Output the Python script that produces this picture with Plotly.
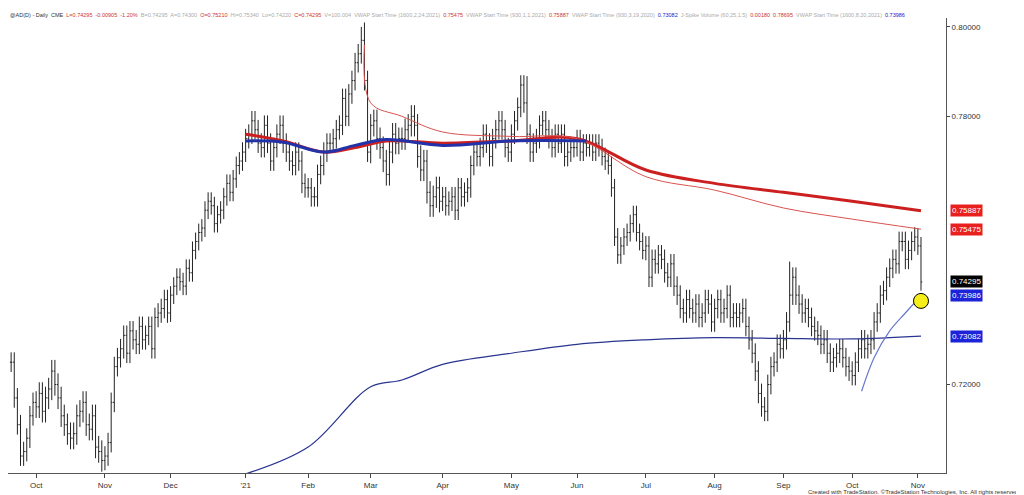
import pandas as pd
import plotly.graph_objects as go

# daily closes (x 1e-4), one list per month
closes = {
    "2020-09": [7250, 7170, 7110, 7040, 7050, 7080, 7130, 7160],
    "2020-10": [7150, 7180, 7140, 7170, 7190, 7230, 7200, 7170, 7130, 7110, 7090, 7080, 7090, 7130, 7140, 7160, 7110, 7100, 7130, 7060, 7050, 7030],
    "2020-11": [7040, 7070, 7160, 7240, 7260, 7280, 7310, 7270, 7320, 7300, 7290, 7330, 7300, 7310, 7330, 7280, 7350, 7360, 7370, 7390, 7360],
    "2020-12": [7400, 7420, 7440, 7430, 7420, 7460, 7450, 7500, 7520, 7540, 7550, 7590, 7610, 7600, 7560, 7580, 7590, 7620, 7650, 7630, 7660, 7690, 7700],
    "2021-01": [7720, 7750, 7760, 7790, 7770, 7740, 7730, 7780, 7740, 7700, 7730, 7760, 7780, 7740, 7720, 7700, 7690, 7720, 7700, 7650, 7640],
    "2021-02": [7640, 7620, 7620, 7670, 7690, 7720, 7740, 7740, 7750, 7770, 7780, 7840, 7800, 7850, 7880, 7920, 7940, 7970, 7880, 7720],
    "2021-03": [7780, 7790, 7750, 7730, 7700, 7670, 7720, 7760, 7740, 7750, 7750, 7770, 7780, 7800, 7780, 7710, 7680, 7700, 7630, 7600, 7620, 7640, 7610],
    "2021-04": [7620, 7600, 7610, 7620, 7590, 7640, 7620, 7630, 7640, 7690, 7720, 7710, 7730, 7760, 7740, 7710, 7750, 7770, 7790, 7770, 7730, 7720],
    "2021-05": [7760, 7790, 7820, 7870, 7830, 7760, 7720, 7740, 7750, 7780, 7790, 7770, 7750, 7730, 7760, 7740, 7760, 7710, 7720, 7730, 7730],
    "2021-06": [7750, 7720, 7740, 7730, 7740, 7720, 7740, 7730, 7710, 7700, 7690, 7640, 7530, 7490, 7510, 7530, 7540, 7560, 7580, 7540, 7520, 7500],
    "2021-07": [7510, 7440, 7480, 7470, 7490, 7480, 7450, 7440, 7470, 7420, 7400, 7370, 7360, 7390, 7370, 7360, 7380, 7350, 7360, 7390, 7380, 7340],
    "2021-08": [7370, 7390, 7360, 7370, 7400, 7350, 7360, 7350, 7360, 7370, 7330, 7300, 7270, 7230, 7180, 7150, 7140, 7200, 7240, 7250, 7290, 7280],
    "2021-09": [7300, 7340, 7400, 7440, 7400, 7380, 7360, 7370, 7350, 7330, 7320, 7310, 7290, 7300, 7270, 7250, 7260, 7270, 7280, 7260, 7240, 7230],
    "2021-10": [7220, 7250, 7280, 7300, 7280, 7290, 7300, 7340, 7360, 7400, 7410, 7440, 7460, 7480, 7470, 7520, 7520, 7480, 7500, 7520, 7530],
    "2021-11": [7510, 7430],
}
# typical wick beyond open/close per month (x 1e-4)
wick = {"2020-09": 22, "2020-10": 25, "2020-11": 22, "2020-12": 20, "2021-01": 22, "2021-02": 22,
        "2021-03": 25, "2021-04": 22, "2021-05": 22, "2021-06": 20, "2021-07": 22, "2021-08": 22,
        "2021-09": 22, "2021-10": 22, "2021-11": 20}
high_override = {"2021-02-25": 0.8010, "2021-02-24": 0.8000, "2021-05-10": 0.7890, "2021-09-03": 0.7475}

dates, c = [], []
for m, vals in closes.items():
    start = "2020-09-21" if m == "2020-09" else m + "-01"
    end = pd.Timestamp(m + "-01") + pd.offsets.MonthEnd(0)
    if m == "2021-11":
        end = "2021-11-02"
    d = pd.bdate_range(start, end)
    n = min(len(d), len(vals))
    for i in range(n):
        dates.append(d[i])
        c.append((vals[i], wick[m]))

o, h, l, cl = [], [], [], []
prev = c[0][0]
for d, (v, w) in zip(dates, c):
    op = prev
    o.append(op / 1e4)
    cl.append(v / 1e4)
    hi = (max(op, v) + w) / 1e4
    h.append(high_override.get(d.strftime("%Y-%m-%d"), hi))
    l.append((min(op, v) - w) / 1e4)
    prev = v
cl[-1] = 0.74295

# anchored VWAP keypoints
red_thick_x = ["2021-01-04", "2021-01-20", "2021-02-08", "2021-02-22", "2021-03-08", "2021-04-01", "2021-05-03", "2021-06-01", "2021-07-01", "2021-08-02", "2021-09-01", "2021-10-01", "2021-11-02"]
red_thick_y = [0.7760, 0.7745, 0.7720, 0.7730, 0.7745, 0.7740, 0.7745, 0.7750, 0.7680, 0.7650, 0.7630, 0.7610, 0.75887]
red_thin_x = ["2021-02-25", "2021-03-01", "2021-03-15", "2021-04-01", "2021-05-03", "2021-06-01", "2021-07-01", "2021-08-02", "2021-09-01", "2021-10-01", "2021-11-02"]
red_thin_y = [0.7960, 0.7830, 0.7800, 0.7765, 0.7755, 0.7750, 0.7665, 0.7635, 0.7595, 0.7570, 0.75475]
blue_thick_x = ["2021-01-04", "2021-01-20", "2021-02-08", "2021-02-22", "2021-03-08", "2021-04-01", "2021-05-03", "2021-06-04"]
blue_thick_y = [0.7745, 0.7742, 0.7720, 0.7735, 0.7748, 0.7735, 0.7745, 0.7745]
blue_long_x = ["2021-01-04", "2021-02-01", "2021-03-01", "2021-03-15", "2021-04-01", "2021-05-03", "2021-06-01", "2021-07-01", "2021-08-02", "2021-09-01", "2021-10-01", "2021-11-02"]
blue_long_y = [0.7000, 0.7060, 0.7195, 0.7210, 0.7245, 0.7270, 0.7290, 0.7300, 0.7305, 0.7303, 0.7302, 0.73082]
blue_aug_x = ["2021-10-06", "2021-10-12", "2021-10-19", "2021-10-26", "2021-11-02"]
blue_aug_y = [0.7185, 0.7260, 0.7320, 0.7360, 0.73986]

month_ticks = ["2020-10-01", "2020-11-02", "2020-12-01", "2021-01-04", "2021-02-01", "2021-03-01", "2021-04-01", "2021-05-03", "2021-06-01", "2021-07-01", "2021-08-02", "2021-09-01", "2021-10-01", "2021-11-01"]
month_text = ["Oct", "Nov", "Dec", "'21", "Feb", "Mar", "Apr", "May", "Jun", "Jul", "Aug", "Sep", "Oct", "Nov"]

fig = go.Figure()
fig.add_trace(go.Ohlc(x=dates, open=o, high=h, low=l, close=cl,
                      increasing=dict(line=dict(color="#222", width=1)),
                      decreasing=dict(line=dict(color="#222", width=1)), tickwidth=0.4))
fig.add_trace(go.Scatter(x=red_thick_x, y=red_thick_y, mode="lines", line=dict(color="#cc1f1f", width=3, shape="spline")))
fig.add_trace(go.Scatter(x=red_thin_x, y=red_thin_y, mode="lines", line=dict(color="#d9534f", width=1, shape="spline")))
fig.add_trace(go.Scatter(x=blue_thick_x, y=blue_thick_y, mode="lines", line=dict(color="#2233aa", width=3, shape="spline")))
fig.add_trace(go.Scatter(x=blue_long_x, y=blue_long_y, mode="lines", line=dict(color="#2a3590", width=1.2, shape="spline")))
fig.add_trace(go.Scatter(x=blue_aug_x, y=blue_aug_y, mode="lines", line=dict(color="#6677cc", width=1.2, shape="spline")))
fig.add_trace(go.Scatter(x=["2021-11-02"], y=[0.7387], mode="markers",
                         marker=dict(size=15, color="#f5ee1a", line=dict(color="black", width=1))))

tags = [(0.75887, "#e8201e"), (0.75475, "#e8201e"), (0.74295, "black"), (0.73986, "#1c23d8"), (0.73082, "#1c23d8")]
for v, col in tags:
    fig.add_annotation(x=1.0, xref="paper", y=v, yref="y", text=f"{v:.5f}", showarrow=False,
                       xanchor="left", xshift=4, bgcolor=col, font=dict(color="white", size=8))

fig.add_annotation(x=0, xref="paper", y=1.0, yref="paper", yanchor="bottom", xanchor="left", showarrow=False, yshift=-2,
                   text="@AD(D) - Daily  CME  <span style='color:#c33'>L=0.74295  -0.00905  -1.20%</span>  <span style='color:#aaa'>B=0.74295  A=0.74300</span>  "
                        "<span style='color:#c33'>O=0.75210</span>  <span style='color:#aaa'>Hi=0.75340  Lo=0.74220</span>  <span style='color:#c33'>C=0.74295</span>  "
                        "<span style='color:#aaa'>V=100.004  VWAP Start Time (1600,2,24,2021)</span>  <span style='color:#c33'>0.75475</span>  "
                        "<span style='color:#aaa'>VWAP Start Time (930,1,1,2021)</span>  <span style='color:#c33'>0.75887</span>  "
                        "<span style='color:#aaa'>VWAP Start Time (930,3,19,2020)</span>  <span style='color:#22c'>0.73082</span>  "
                        "<span style='color:#aaa'>J-Spike Volume (60,25,1.5)</span>  <span style='color:#c33'>0.00180  0.78695</span>  "
                        "<span style='color:#aaa'>VWAP Start Time (1600,8,20,2021)</span>  <span style='color:#22c'>0.73986</span>",
                   font=dict(size=5.5, color="#333"))
fig.add_annotation(x=1.0, xref="paper", y=0, yref="paper", xanchor="right", yanchor="top", yshift=-14, xshift=76, showarrow=False,
                   text="Created with TradeStation. ©TradeStation Technologies, Inc. All rights reserved.", font=dict(size=6, color="#333"))

fig.update_layout(
    width=1024, height=495, margin=dict(l=0, r=86, t=10, b=30),
    paper_bgcolor="white", plot_bgcolor="white", showlegend=False,
    font=dict(family="Liberation Sans, Arial", size=8, color="#333"),
    xaxis=dict(rangeslider=dict(visible=False), rangebreaks=[dict(bounds=["sat", "mon"])],
               range=["2020-09-18", "2021-11-12"], tickvals=month_ticks, ticktext=month_text,
               ticks="outside", ticklen=4, showgrid=False, showline=True, linecolor="#555", mirror=False),
    yaxis=dict(side="right", range=[0.7002, 0.8020], tickvals=[0.72, 0.78, 0.80],
               tickformat=".5f", showgrid=False, showline=True, linecolor="#555", ticks="outside", ticklen=3),
)
fig.write_html("out.html")
